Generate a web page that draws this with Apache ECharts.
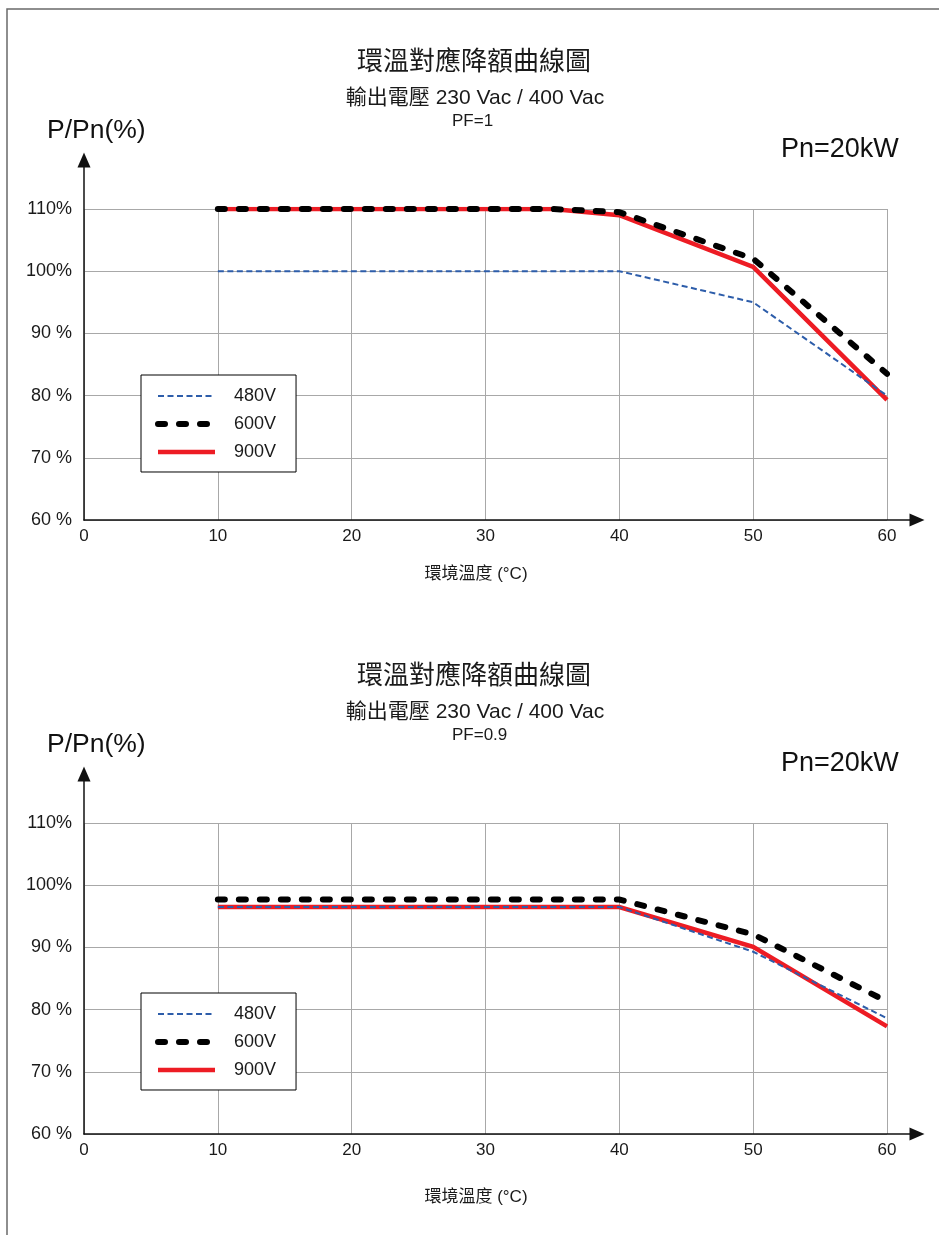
<!DOCTYPE html>
<html>
<head>
<meta charset="utf-8">
<script src="https://cdn.jsdelivr.net/npm/echarts@6/dist/echarts.min.js"></script>
<style>
  html, body { margin: 0; padding: 0; background: #fff; }
  #main { width: 939px; height: 1235px; }
</style>
</head>
<body>
<div id="main"></div>
<script type="text/javascript">
// 坐標軸刻度
var xTicks = [0, 10, 20, 30, 40, 50, 60];
var yTicks = [60, 70, 80, 90, 100, 110];
var seriesNames = ['480V', '600V', '900V'];

// PF=1
var pf1Temp480 = [10, 40, 50, 60];
var pf1Val480 = [100, 100, 95, 80];
var pf1Temp600 = [10, 35, 40, 50, 60];
var pf1Val600 = [110, 110, 109.5, 102, 83.5];
var pf1Temp900 = [10, 35, 40, 50, 60];
var pf1Val900 = [110, 110, 109, 100.7, 79.3];

// PF=0.9
var pf09Temp = [10, 40, 50, 60];
var pf09Val480 = [96.5, 96.5, 89.3, 78.6];
var pf09Val600 = [97.7, 97.7, 92.1, 81.3];
var pf09Val900 = [96.5, 96.5, 90.1, 77.3];

var titleText = '環溫對應降額曲線圖';
var subText = '輸出電壓 230 Vac / 400 Vac';
var pfTexts = ['PF=1', 'PF=0.9'];

var latin = "'Liberation Sans', Arial, 'Noto Sans CJK TC', sans-serif";
var cjk = "'Noto Sans CJK TC', 'Liberation Sans', sans-serif";

function pairs(xs, ys) {
    return xs.map(function (x, i) { return [x, ys[i]]; });
}

// 線型：480V 細藍虛線，600V 粗黑虛線，900V 紅實線
var styles = {
    '480V': {color: '#2d5daa', width: 2, type: [6, 3.5], cap: 'butt', z: 4},
    '600V': {color: '#000000', width: 6, type: [7, 14], cap: 'round', z: 3},
    '900V': {color: '#ed1c24', width: 4.5, type: 'solid', cap: 'butt', z: 2}
};

var panels = [
    {dy: 0, nameGap: 46, legendTop: 375, data: {'480V': pairs(pf1Temp480, pf1Val480), '600V': pairs(pf1Temp600, pf1Val600), '900V': pairs(pf1Temp900, pf1Val900)}},
    {dy: 614, nameGap: 55, legendTop: 993, data: {'480V': pairs(pf09Temp, pf09Val480), '600V': pairs(pf09Temp, pf09Val600), '900V': pairs(pf09Temp, pf09Val900)}}
];

var grid = [], xAxis = [], yAxis = [], series = [], legend = [], graphic = [];

// 外框
graphic.push({
    type: 'rect', shape: {x: 7, y: 9, width: 960, height: 1260},
    style: {fill: 'none', stroke: '#6a6a6a', lineWidth: 1.5}, silent: true
});

panels.forEach(function (p, k) {
    var dy = p.dy;
    var gi = k * 2;
    // 資料區
    grid.push({left: 84, width: 803, top: 209 + dy, height: 311});
    // 帶箭頭的座標軸
    grid.push({left: 84, width: 833, top: 160 + dy, height: 360});

    xAxis.push({
        type: 'value', gridIndex: gi, min: xTicks[0], max: xTicks[xTicks.length - 1], interval: 10,
        axisLine: {show: false}, axisTick: {show: false},
        axisLabel: {fontSize: 17, color: '#1a1a1a', fontFamily: latin, margin: 8},
        splitLine: {lineStyle: {color: '#a8a8a8', width: 1}},
        name: '環境溫度 (°C)', nameLocation: 'middle', nameGap: p.nameGap,
        nameTextStyle: {fontSize: 17, color: '#1a1a1a', fontFamily: latin, padding: [0, 19, 0, 0]}
    });
    yAxis.push({
        type: 'value', gridIndex: gi, min: yTicks[0], max: yTicks[yTicks.length - 1], interval: 10,
        axisLine: {show: false}, axisTick: {show: false},
        axisLabel: {
            fontSize: 18, color: '#1a1a1a', fontFamily: latin, margin: 12,
            formatter: function (v) { return v >= 100 ? v + '%' : v + ' %'; }
        },
        splitLine: {lineStyle: {color: '#a8a8a8', width: 1}}
    });
    xAxis.push({
        type: 'value', gridIndex: gi + 1, min: 0, max: 1,
        axisLine: {show: true, symbol: ['none', 'triangle'], symbolSize: [13, 15], lineStyle: {color: '#111', width: 1.5}},
        axisTick: {show: false}, axisLabel: {show: false}, splitLine: {show: false}
    });
    yAxis.push({
        type: 'value', gridIndex: gi + 1, min: 0, max: 1,
        axisLine: {show: true, symbol: ['none', 'triangle'], symbolSize: [13, 15], lineStyle: {color: '#111', width: 1.5}},
        axisTick: {show: false}, axisLabel: {show: false}, splitLine: {show: false}
    });

    seriesNames.forEach(function (name) {
        var s = styles[name];
        series.push({
            type: 'line', name: name, xAxisIndex: gi, yAxisIndex: gi,
            data: p.data[name], symbol: 'none', z: s.z, silent: true,
            lineStyle: {color: s.color, width: s.width, type: s.type, cap: s.cap, join: 'miter'},
            itemStyle: {color: s.color}
        });
    });

    legend.push({
        orient: 'vertical', left: 141, top: p.legendTop,
        backgroundColor: '#fff', borderColor: '#000', borderWidth: 1,
        padding: [12, 20, 11, 14], itemWidth: 57, itemHeight: 14, itemGap: 10,
        selectedMode: false,
        // 圖例只畫線，不畫圓點
        itemStyle: {color: 'rgba(0,0,0,0)', borderWidth: 0, opacity: 0},
        textStyle: {fontSize: 18, color: '#1a1a1a', fontFamily: latin, padding: [0, 0, 0, 14]},
        data: seriesNames.map(function (name) {
            var s = styles[name];
            return {name: name,
                itemStyle: {color: 'rgba(0,0,0,0)', borderWidth: 0, opacity: 0},
                lineStyle: {color: s.color, width: s.width, type: s.type, cap: s.cap, opacity: 1}};
        })
    });

    graphic.push(
        {type: 'text', x: 474, y: 60 + dy, style: {text: titleText, fontSize: 26, fontFamily: cjk, fill: '#1a1a1a', align: 'center', verticalAlign: 'middle'}},
        {type: 'text', x: 475, y: 98 + dy, style: {text: subText, fontSize: 21, fontFamily: latin, fill: '#1a1a1a', align: 'center', verticalAlign: 'middle'}},
        {type: 'text', x: 452, y: 121 + dy, style: {text: pfTexts[k], fontSize: 17, fontFamily: latin, fill: '#1a1a1a', align: 'left', verticalAlign: 'middle'}},
        {type: 'text', x: 47, y: 131 + dy, style: {text: 'P/Pn(%)', fontSize: 26.5, fontFamily: latin, fill: '#111', align: 'left', verticalAlign: 'middle'}},
        {type: 'text', x: 781, y: 150 + dy, style: {text: 'Pn=20kW', fontSize: 27, fontFamily: latin, fill: '#111', align: 'left', verticalAlign: 'middle'}}
    );
});

var myChart = echarts.init(document.getElementById('main'));
myChart.setOption({
    animation: false,
    backgroundColor: '#fff',
    grid: grid,
    xAxis: xAxis,
    yAxis: yAxis,
    legend: legend,
    series: series,
    graphic: graphic
});
</script>
</body>
</html>
